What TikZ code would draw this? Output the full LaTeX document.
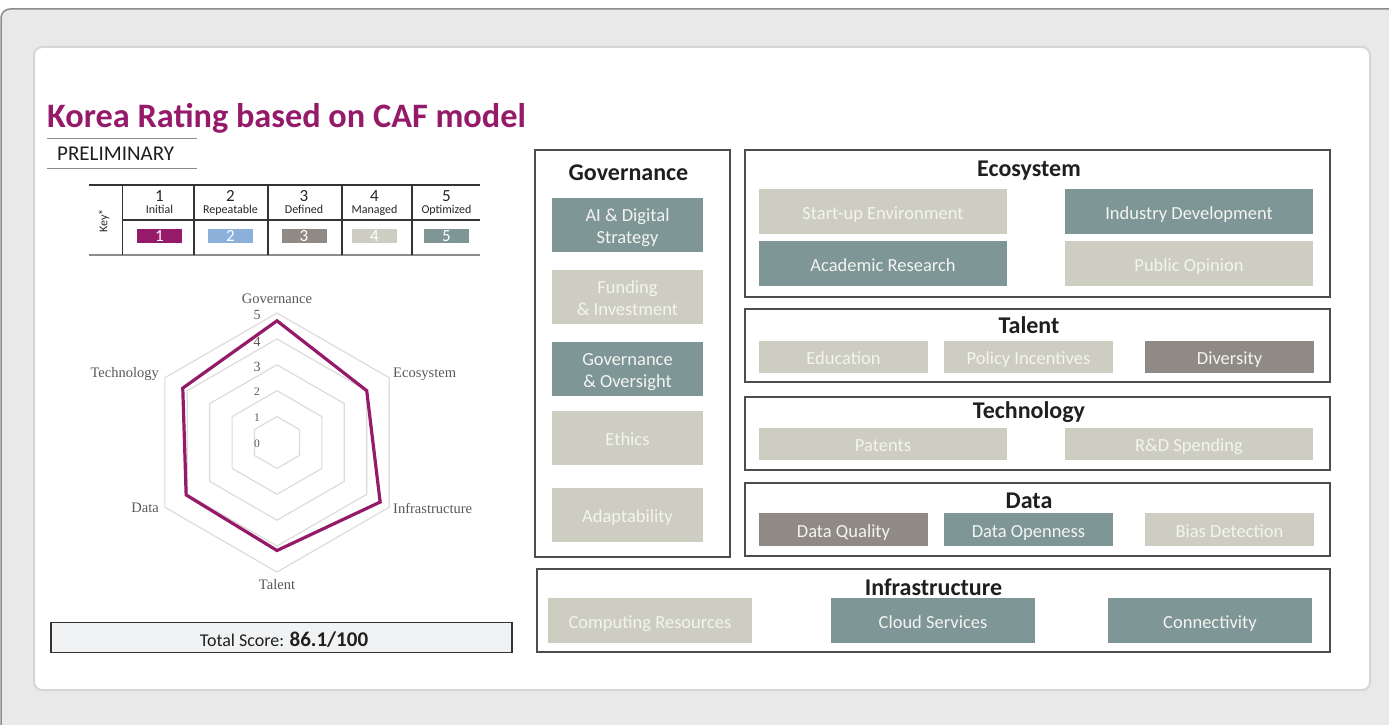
\documentclass[tikz,border=0pt]{standalone}
\usepackage{fontspec}
\setmainfont{Carlito}
\newfontfamily\chartfont{Liberation Serif}
\definecolor{tealc}{HTML}{7E9696}
\definecolor{beigec}{HTML}{CDCDC1}
\definecolor{grayc}{HTML}{8F8A86}
\definecolor{purplec}{HTML}{951B6A}
\definecolor{bluec}{HTML}{8DB0DB}
\definecolor{secline}{HTML}{4D4D4D}
\definecolor{bgc}{HTML}{E9E9E9}
\definecolor{cardline}{HTML}{D6D6D6}
\definecolor{gridc}{HTML}{DCDCDC}
\definecolor{chartlbl}{HTML}{595959}
\definecolor{scorebg}{HTML}{F1F2F4}
\definecolor{celltext}{HTML}{F4F4F0}
\newcommand{\itembox}[7]{%
  \node[#2, minimum width=#5pt, minimum height=#6pt] (#1) at (#3,#4) {};
  \node[celltxt] (#1t) at (#3,#4+7.6) {#7};}
\newcommand{\itemboxtwo}[8]{%
  \node[#2, minimum width=#5pt, minimum height=#6pt] (#1) at (#3,#4) {};
  \node[celltxt] (#1a) at (#3,#4-3.5) {#7};
  \node[celltxt] (#1b) at (#3,#4+18.6) {#8};}
\begin{document}
\begin{tikzpicture}[x=1pt,y=-1pt,
  sec/.style={draw=secline, line width=1.3pt, fill=white, inner sep=0},
  cell/.style={inner sep=0},
  celltxt/.style={inner sep=0, anchor=base, text=celltext, font=\fontsize{18.5}{22}\selectfont},
  tealbox/.style={cell, fill=tealc},
  beigebox/.style={cell, fill=beigec},
  graybox/.style={cell, fill=grayc},
  sectitle/.style={font=\bfseries\fontsize{24}{28}\selectfont, text=black!88, inner sep=0, anchor=base},
  keynum/.style={font=\fontsize{17}{20}\selectfont, inner sep=0, anchor=base, text=black!85},
  keylbl/.style={font=\fontsize{12}{14}\selectfont, inner sep=0, anchor=base, text=black!85},
  swatch/.style={inner sep=0, minimum width=45pt, minimum height=14pt, text=white, font=\fontsize{17}{17}\selectfont},
  gridline/.style={draw=gridc, line width=1.2pt},
  axlbl/.style={font=\chartfont\fontsize{14.5}{16}\selectfont, text=chartlbl, inner sep=0},
  scalelbl/.style={font=\chartfont\fontsize{14}{16}\selectfont, text=chartlbl, inner sep=0},
  scalesm/.style={font=\chartfont\fontsize{11.5}{13}\selectfont, text=chartlbl, inner sep=0},
  tline/.style={draw=black!80, line width=1.1pt}
]
\useasboundingbox (0,0) rectangle (1389,725);
% outer frame and card
\draw[fill=bgc, draw=black!45, line width=1.5pt, rounded corners=9pt] (1,9) rectangle (1430,770);
\draw[fill=white, draw=cardline, line width=2pt, rounded corners=8pt] (34,47) rectangle (1370,690);

% title
\node[anchor=base west, inner sep=0, text=purplec, font=\bfseries\fontsize{34.3}{40}\selectfont] (title) at (47,127) {Korea Rating based on CAF model};
\draw[draw=black!45, line width=1.5pt] (47,138.3) -- (197,138.3);
\draw[draw=black!45, line width=1.5pt] (47,168.3) -- (197,168.3);
\node[anchor=west, inner sep=0, text=black!88, font=\fontsize{21}{24}\selectfont] (prelim) at (57,153.3) {PRELIMINARY};

% key table
\draw[tline] (89,185) -- (480,185);
\draw[tline] (122.5,220) -- (480,220);
\draw[draw=black!45, line width=2pt] (89,255) -- (480,255);
\foreach \xx in {122.5,194,268,342,412} \draw[tline] (\xx,185) -- (\xx,255);
\node[rotate=90, inner sep=0, font=\fontsize{12}{14}\selectfont, text=black!85] (key) at (104,221) {Key*};
\foreach \xx/\n/\l/\c [count=\i] in {159.5/1/Initial/purplec, 230.5/2/Repeatable/bluec, 304/3/Defined/grayc, 374.5/4/Managed/beigec, 446.5/5/Optimized/tealc}{
  \node[keynum] (kn\i) at (\xx,201.7) {\n};
  \node[keylbl] (kl\i) at (\xx,213.3) {\l};
  \node[swatch, fill=\c] (ks\i) at (\xx,236) {\n};
}

% radar chart
\begin{scope}[shift={(277,442.5)}]
  \coordinate (rc) at (0,0);
  \foreach \r in {1,...,5}
    \draw[gridline] (270:{\r*25.9}) -- (330:{\r*25.9}) -- (30:{\r*25.9}) -- (90:{\r*25.9}) -- (150:{\r*25.9}) -- (210:{\r*25.9}) -- cycle;
  \draw[draw=purplec, line width=3.2pt, line join=miter] (270:121.7) -- (330:103.6) -- (30:119.1) -- (90:108) -- (150:104.9) -- (210:108.8) -- cycle;
\end{scope}
\node[scalelbl] (s5) at (257,315) {5};
\node[scalelbl] (s4) at (257,342) {4};
\node[scalelbl] (s3) at (257,366.5) {3};
\node[scalesm] (s2) at (257,391.5) {2};
\node[scalesm] (s1) at (257,418) {1};
\node[scalesm] (s0) at (257,444) {0};
\node[axlbl] (lgov) at (277,298.5) {Governance};
\node[axlbl, anchor=west] (leco) at (393,374) {Ecosystem};
\node[axlbl, anchor=west] (linf) at (393,508) {Infrastructure};
\node[axlbl] (ltal) at (277,584.5) {Talent};
\node[axlbl, anchor=east] (ldat) at (159,508) {Data};
\node[axlbl, anchor=east] (ltec) at (159,374) {Technology};

% total score
\node[draw=black!80, line width=1.1pt, fill=scorebg, minimum width=461pt, minimum height=30pt, inner sep=0] (score) at (281.5,637.5) {};
\node[anchor=base, inner sep=0, text=black!88] (scoretxt) at (284,646) {\fontsize{18}{20}\selectfont Total Score: \bfseries\fontsize{21}{22}\selectfont 86.1/100};

% Governance section
\node[sec, minimum width=195pt, minimum height=407pt] (govsec) at (632.5,353.5) {};
\node[sectitle] (govt) at (628.5,180) {Governance};
\itemboxtwo{ai}{tealbox}{627.5}{225}{151}{54}{AI \& Digital}{Strategy}
\itemboxtwo{fund}{beigebox}{627.5}{297}{151}{54}{Funding}{\& Investment}
\itemboxtwo{gov}{tealbox}{627.5}{369}{151}{54}{Governance}{\& Oversight}
\itembox{eth}{beigebox}{627.5}{438}{151}{54}{Ethics}
\itembox{adapt}{beigebox}{627.5}{515}{151}{54}{Adaptability}

% Ecosystem section
\node[sec, minimum width=585pt, minimum height=147pt] (ecosec) at (1037.5,223.5) {};
\node[sectitle] (ecot) at (1029,176) {Ecosystem};
\itembox{startup}{beigebox}{883}{211.5}{248}{45}{Start-up Environment}
\itembox{indus}{tealbox}{1189}{211.5}{248}{45}{Industry Development}
\itembox{acad}{tealbox}{883}{263.5}{248}{45}{Academic Research}
\itembox{pub}{beigebox}{1189}{263.5}{248}{45}{Public Opinion}

% Talent section
\node[sec, minimum width=585pt, minimum height=73pt] (talsec) at (1037.5,345.5) {};
\node[sectitle] (talt) at (1029,333) {Talent};
\itembox{edu}{beigebox}{843.5}{357}{169}{32}{Education}
\itembox{pol}{beigebox}{1028.5}{357}{169}{32}{Policy Incentives}
\itembox{div}{graybox}{1229.5}{357}{169}{32}{Diversity}

% Technology section
\node[sec, minimum width=585pt, minimum height=73pt] (tecsec) at (1037.5,433.5) {};
\node[sectitle] (tect) at (1029,418) {Technology};
\itembox{pat}{beigebox}{883}{443.5}{248}{32}{Patents}
\itembox{rd}{beigebox}{1189}{443.5}{248}{32}{R\&D Spending}

% Data section
\node[sec, minimum width=585pt, minimum height=73pt] (datsec) at (1037.5,519.5) {};
\node[sectitle] (datt) at (1029,508) {Data};
\itembox{dq}{graybox}{843.5}{529.5}{169}{33}{Data Quality}
\itembox{dop}{tealbox}{1028.5}{529.5}{169}{33}{Data Openness}
\itembox{bias}{beigebox}{1229.5}{529.5}{169}{33}{Bias Detection}

% Infrastructure section
\node[sec, minimum width=793pt, minimum height=83pt] (infsec) at (933.5,610.5) {};
\node[sectitle] (inft) at (933.5,595) {Infrastructure};
\itembox{comp}{beigebox}{650}{620.5}{204}{45}{Computing Resources}
\itembox{cloud}{tealbox}{933}{620.5}{204}{45}{Cloud Services}
\itembox{conn}{tealbox}{1210}{620.5}{204}{45}{Connectivity}
\end{tikzpicture}
\end{document}
